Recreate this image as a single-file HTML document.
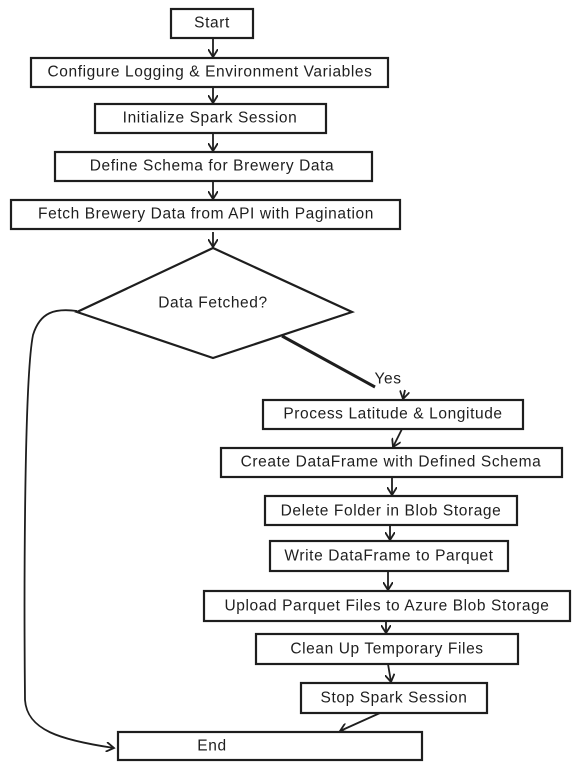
<!DOCTYPE html>
<html><head><meta charset="utf-8"><style>
html,body{margin:0;padding:0;background:#fff;}
svg{display:block;}
text{font-family:"Liberation Sans",sans-serif;font-size:15.5px;letter-spacing:0.6px;fill:#1e1e1e;text-anchor:middle;dominant-baseline:central;}
.b{fill:#fff;stroke:#1e1e1e;stroke-width:2.2;}
.l{fill:none;stroke:#1e1e1e;stroke-width:1.8;}
</style></head><body>
<svg width="581" height="772" viewBox="0 0 581 772">
<defs><marker id="a" markerWidth="10" markerHeight="10" refX="8" refY="5" orient="auto" markerUnits="userSpaceOnUse"><path d="M0,0 L8,5 L0,10" fill="none" stroke="#1e1e1e" stroke-width="1.8"/></marker></defs>
<path class="l" d="M213,38 L213,57" marker-end="url(#a)"/>
<path class="l" d="M213,87 L213,103" marker-end="url(#a)"/>
<path class="l" d="M213,133 L213,151" marker-end="url(#a)"/>
<path class="l" d="M213,181 L213,199" marker-end="url(#a)"/>
<path class="l" d="M213,232 L213,247" marker-end="url(#a)"/>
<path class="l" d="M282,336 L375,387" style="stroke-width:3"/>
<path class="l" d="M405,390 L403,399" marker-end="url(#a)"/>
<path class="l" d="M402,429 L393,447" marker-end="url(#a)"/>
<path class="l" d="M392,477 L392,495" marker-end="url(#a)"/>
<path class="l" d="M390,525 L390,540" marker-end="url(#a)"/>
<path class="l" d="M388,571 L388,590" marker-end="url(#a)"/>
<path class="l" d="M386,621 L386,633" marker-end="url(#a)"/>
<path class="l" d="M388,664 L391,682" marker-end="url(#a)"/>
<path class="l" d="M380,713 L340,731" marker-end="url(#a)"/>
<path class="l" d="M77,311 C55,308 40,312 33,335 C24,380 24,600 25,700 C27,730 60,740 114,748" marker-end="url(#a)"/>
<rect class="b" x="171" y="9" width="82" height="29"/><text x="212" y="23">Start</text>
<rect class="b" x="31" y="58" width="357" height="29"/><text x="210" y="72">Configure Logging &amp; Environment Variables</text>
<rect class="b" x="95" y="104" width="231" height="29"/><text x="210" y="118">Initialize Spark Session</text>
<rect class="b" x="55" y="152" width="317" height="29"/><text x="212" y="166">Define Schema for Brewery Data</text>
<rect class="b" x="11" y="200" width="389" height="29"/><text x="206" y="214">Fetch Brewery Data from API with Pagination</text>
<path class="b" d="M213,248 L352,312 L213,358 L77,312 Z"/><text x="213" y="303">Data Fetched?</text>
<text x="388" y="379">Yes</text>
<rect class="b" x="263" y="400" width="260" height="29"/><text x="393" y="414">Process Latitude &amp; Longitude</text>
<rect class="b" x="221" y="448" width="341" height="29"/><text x="391" y="462">Create DataFrame with Defined Schema</text>
<rect class="b" x="265" y="496" width="252" height="29"/><text x="391" y="511">Delete Folder in Blob Storage</text>
<rect class="b" x="270" y="541" width="238" height="30"/><text x="389" y="556">Write DataFrame to Parquet</text>
<rect class="b" x="204" y="591" width="366" height="30"/><text x="387" y="606">Upload Parquet Files to Azure Blob Storage</text>
<rect class="b" x="256" y="634" width="262" height="30"/><text x="387" y="649">Clean Up Temporary Files</text>
<rect class="b" x="301" y="683" width="186" height="30"/><text x="394" y="698">Stop Spark Session</text>
<rect class="b" x="118" y="732" width="304" height="28"/><text x="212" y="746">End</text>
</svg>
</body></html>
